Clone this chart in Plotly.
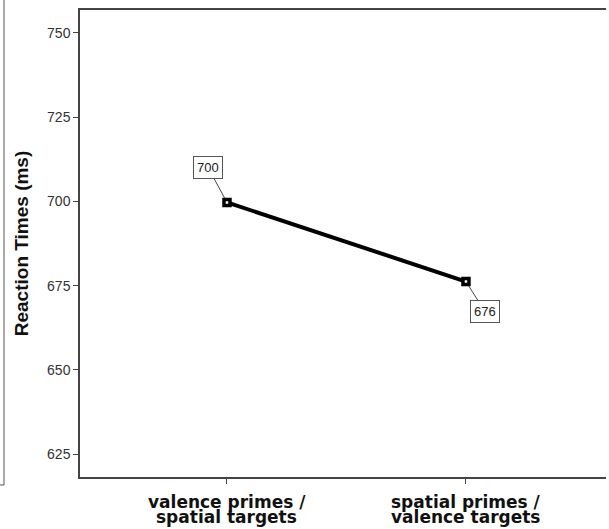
import plotly.graph_objects as go

category_line1 = ["valence primes /", "spatial primes /"]
category_line2 = ["spatial targets", "valence targets"]
rt_values = [699.7, 676.2]
value_labels = ["700", "676"]
y_ticks = [625, 650, 675, 700, 725, 750]

fig = go.Figure()
fig.add_trace(go.Scatter(
    x=[0, 1], y=rt_values, mode="lines+markers",
    line=dict(color="black", width=4),
    marker=dict(symbol="square", size=6, color="white",
                line=dict(color="black", width=3.5)),
    showlegend=False, hoverinfo="skip",
))

offsets = [(-19, -35), (19, 30)]
for i, (v, lab) in enumerate(zip(rt_values, value_labels)):
    ax, ay = offsets[i]
    fig.add_annotation(
        x=i, y=v, text=lab, showarrow=True, arrowhead=0, arrowwidth=1,
        arrowcolor="#444", ax=ax, ay=ay, standoff=5,
        bordercolor="#555", borderwidth=1, borderpad=3, bgcolor="white",
        font=dict(family="Liberation Sans, Arial", size=13, color="#222"),
    )

W, H = 609, 529
ml, mr, mt, mb = 80, 3, 10, 52
pw = W - ml - mr
ph = H - mt - mb
def px2x(px):
    return (px - ml) / pw
def py2y(py):
    return (H - mb - py) / ph

# two-line category labels (tight line spacing, as in the reference)
for i in range(len(category_line1)):
    fig.add_annotation(
        x=i, xref="x", y=py2y(502), yref="paper", yanchor="middle",
        text="<b>" + category_line1[i] + "</b>", showarrow=False,
        font=dict(family="DejaVu Sans", size=17, color="#111"),
    )
    fig.add_annotation(
        x=i, xref="x", y=py2y(517), yref="paper", yanchor="middle",
        text="<b>" + category_line2[i] + "</b>", showarrow=False,
        font=dict(family="DejaVu Sans", size=17, color="#111"),
    )

# cropped frame of neighbouring chart on the far left
fig.add_shape(type="line", xref="paper", yref="paper",
              x0=px2x(4), x1=px2x(4), y0=py2y(0), y1=py2y(485),
              line=dict(color="#555", width=1))
fig.add_shape(type="line", xref="paper", yref="paper",
              x0=px2x(0), x1=px2x(4), y0=py2y(485), y1=py2y(485),
              line=dict(color="#555", width=1))

fig.update_layout(
    width=W, height=H,
    margin=dict(l=ml, r=mr, t=mt, b=mb),
    paper_bgcolor="white", plot_bgcolor="white",
    xaxis=dict(
        range=[-0.615, 1.586], tickmode="array", tickvals=[0, 1],
        ticktext=["", ""], showgrid=False, zeroline=False,
        showline=True, linecolor="#444", linewidth=1.5, mirror=True,
        ticks="outside", ticklen=5, tickcolor="#444",
    ),
    yaxis=dict(
        range=[618.2, 756.8], tickmode="array", tickvals=y_ticks,
        showgrid=False, zeroline=False,
        showline=True, linecolor="#444", linewidth=1.5,
        ticks="outside", ticklen=5, tickcolor="#444",
        tickfont=dict(family="Liberation Sans, Arial", size=14, color="#333"),
        title=dict(text="<b>Reaction Times (ms)</b>", standoff=13,
                   font=dict(family="Liberation Sans, Arial", size=19, color="#111")),
    ),
)

fig.write_html("out.html", config={"displayModeBar": False},
               post_script="document.body.style.margin='0';document.body.style.overflow='hidden';")
